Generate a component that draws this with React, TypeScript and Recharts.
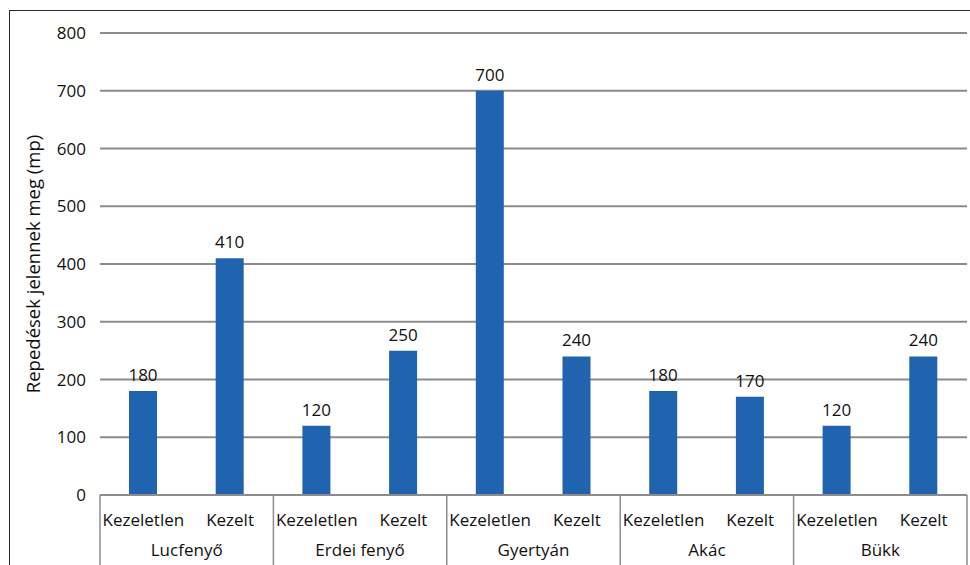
import React from "react";
import { BarChart, Bar, XAxis, YAxis, CartesianGrid, LabelList } from "recharts";

// Wood species (groups) and treatment (per bar)
const species = ["Lucfenyő", "Erdei fenyő", "Gyertyán", "Akác", "Bükk"];
const treatments = ["Kezeletlen", "Kezelt"];
// Seconds until cracks appear, per species: [untreated, treated]
const untreatedValues = [180, 120, 700, 180, 120];
const treatedValues = [410, 250, 240, 170, 240];
const yTicks = [0, 100, 200, 300, 400, 500, 600, 700, 800];
const yLabel = "Repedések jelennek meg (mp)";

const data = species.flatMap((sp, i) => [
  { species: sp, treatment: treatments[0], value: untreatedValues[i], first: true, last: false },
  { species: sp, treatment: treatments[1], value: treatedValues[i], first: false, last: i === species.length - 1 },
]);

const FONT = "'Open Sans', 'Noto Sans', sans-serif";
const BAR_COLOR = "#2064b0";
const GRID_COLOR = "#8c8c8c";

const CategoryTick = (props: any) => {
  const { x, y, payload, index } = props;
  const half = payload && payload.offset ? payload.offset : 43;
  const row = data[index];
  return (
    <g>
      <text x={x} y={y + 31} textAnchor="middle" fontSize={17} fontFamily={FONT} fill="#111">
        {payload.value}
      </text>
      {row.first && (
        <>
          <line x1={x - half} y1={y} x2={x - half} y2={y + 80} stroke={GRID_COLOR} strokeWidth={1.5} />
          <text x={x + half} y={y + 61} textAnchor="middle" fontSize={17} fontFamily={FONT} fill="#111">
            {row.species}
          </text>
        </>
      )}
      {row.last && (
        <line x1={x + half} y1={y} x2={x + half} y2={y + 80} stroke={GRID_COLOR} strokeWidth={1.5} />
      )}
    </g>
  );
};

const YTitle = (props: any) => {
  const vb = props.viewBox || {};
  const cx = vb.x + 14;
  const cy = vb.y + vb.height / 2;
  return (
    <text
      x={cx}
      y={cy}
      transform={`rotate(-90 ${cx} ${cy})`}
      textAnchor="middle"
      dominantBaseline="central"
      fontSize={18.5}
      fontFamily={FONT}
      fill="#111"
    >
      {yLabel}
    </text>
  );
};

export default function App() {
  return (
    <div
      style={{
        position: "absolute",
        left: 0,
        top: 0,
        width: 970,
        height: 565,
        background: "#fff",
        overflow: "hidden",
      }}
    >
      <div
        style={{
          position: "absolute",
          left: 9,
          top: 10,
          width: 1000,
          height: 600,
          border: "1.5px solid #2a2a2a",
        }}
      />
      <div style={{ position: "absolute", left: 0, top: 0 }}>
        <BarChart
          width={970}
          height={565}
          data={data}
          margin={{ top: 33, right: 3, bottom: 0, left: 18 }}
          barCategoryGap={0}
        >
          <CartesianGrid vertical={false} stroke={GRID_COLOR} strokeWidth={2} />
          <XAxis
            dataKey="treatment"
            interval={0}
            tickLine={false}
            tickSize={0}
            tickMargin={0}
            axisLine={{ stroke: GRID_COLOR, strokeWidth: 2 }}
            tick={<CategoryTick />}
            height={70}
          />
          <YAxis
            domain={[0, 800]}
            ticks={yTicks}
            interval={0}
            axisLine={false}
            tickLine={false}
            tickSize={0}
            tickMargin={14}
            width={82}
            tick={{ fontSize: 17, fontFamily: FONT, fill: "#111" }}
            label={<YTitle />}
          />
          <Bar dataKey="value" fill={BAR_COLOR} barSize={28} isAnimationActive={false}>
            <LabelList
              dataKey="value"
              position="top"
              offset={10}
              fontSize={17}
              fontFamily={FONT}
              fill="#111"
            />
          </Bar>
        </BarChart>
      </div>
    </div>
  );
}
